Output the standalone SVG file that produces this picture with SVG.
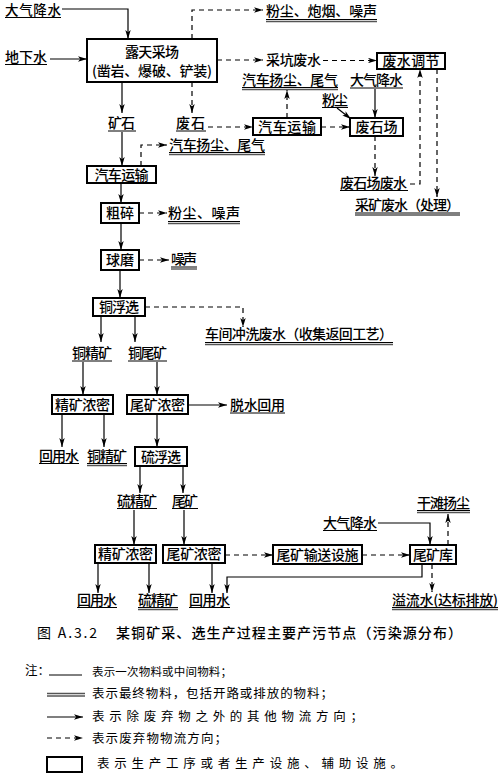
<svg xmlns="http://www.w3.org/2000/svg" width="500" height="776" viewBox="0 0 500 776">
<style>
.bg{fill:#fff}
.box{fill:#fff;stroke:#000;stroke-width:2}
.t{font-family:"Noto Sans CJK SC","Noto Sans CJK JP",sans-serif;font-size:14px;font-weight:500;fill:#000}
.c{text-anchor:middle}
.sm{font-size:12.5px;font-weight:400}
.s{fill:none;stroke:#000;stroke-width:1.2}
.d{fill:none;stroke:#000;stroke-width:1.2;stroke-dasharray:5 4}
.u{stroke:#000;stroke-width:1;fill:none}
.u2{stroke:#555;stroke-width:1.4;fill:none}
</style>
<defs>
<marker id="a" viewBox="0 0 10 6" refX="10" refY="3" markerWidth="9" markerHeight="5.5" orient="auto" markerUnits="userSpaceOnUse">
<path d="M0,0 L10,3 L0,6 L2.5,3 z" fill="#000"/>
</marker>
</defs>
<rect class="bg" x="0" y="0" width="500" height="776"/>

<g id="connectors">
<polyline class="s" points="62,9 128,9 128,39" marker-end="url(#a)"/>
<line class="s" x1="50" y1="59" x2="87" y2="59" marker-end="url(#a)"/>
<polyline class="d" points="192,39 192,10 263,10" marker-end="url(#a)"/>
<line class="d" x1="217" y1="60" x2="263" y2="60" marker-end="url(#a)"/>
<line class="d" x1="323" y1="60.5" x2="377" y2="60.5" marker-end="url(#a)"/>
<line class="s" x1="122" y1="82" x2="122" y2="113" marker-end="url(#a)"/>
<line class="d" x1="192" y1="82" x2="192" y2="113" marker-end="url(#a)"/>
<line class="d" x1="208" y1="127" x2="253" y2="127" marker-end="url(#a)"/>
<line class="d" x1="287" y1="118" x2="287" y2="90" marker-end="url(#a)"/>
<line class="d" x1="321" y1="127" x2="350" y2="127" marker-end="url(#a)"/>
<line class="s" x1="337" y1="108" x2="351" y2="119" marker-end="url(#a)"/>
<line class="s" x1="375" y1="89" x2="375" y2="118" marker-end="url(#a)"/>
<line class="d" x1="375" y1="136" x2="375" y2="176" marker-end="url(#a)"/>
<polyline class="d" points="410,184 420,184 420,69" marker-end="url(#a)"/>
<line class="d" x1="437" y1="69" x2="437" y2="197" marker-end="url(#a)"/>
<line class="s" x1="122" y1="132" x2="122" y2="166" marker-end="url(#a)"/>
<polyline class="d" points="141,166 141,145 167,145" marker-end="url(#a)"/>
<line class="s" x1="121" y1="183" x2="121" y2="203" marker-end="url(#a)"/>
<line class="d" x1="139" y1="213" x2="167" y2="213" marker-end="url(#a)"/>
<line class="s" x1="121" y1="223" x2="121" y2="250" marker-end="url(#a)"/>
<line class="d" x1="139" y1="260" x2="169" y2="260" marker-end="url(#a)"/>
<line class="s" x1="120" y1="270" x2="120" y2="298" marker-end="url(#a)"/>
<polyline class="d" points="145,307 243,307 243,327" marker-end="url(#a)"/>
<line class="s" x1="101" y1="316" x2="101" y2="342" marker-end="url(#a)"/>
<line class="s" x1="135" y1="316" x2="135" y2="342" marker-end="url(#a)"/>
<line class="s" x1="83" y1="362" x2="83" y2="395" marker-end="url(#a)"/>
<line class="s" x1="157" y1="362" x2="157" y2="395" marker-end="url(#a)"/>
<line class="s" x1="188" y1="405" x2="227" y2="405" marker-end="url(#a)"/>
<line class="s" x1="62" y1="414" x2="62" y2="447" marker-end="url(#a)"/>
<line class="s" x1="104" y1="414" x2="104" y2="447" marker-end="url(#a)"/>
<line class="s" x1="157" y1="414" x2="157" y2="447" marker-end="url(#a)"/>
<line class="s" x1="140" y1="466" x2="140" y2="493" marker-end="url(#a)"/>
<line class="s" x1="183" y1="466" x2="183" y2="493" marker-end="url(#a)"/>
<line class="s" x1="134" y1="510" x2="134" y2="545" marker-end="url(#a)"/>
<line class="s" x1="184" y1="510" x2="184" y2="545" marker-end="url(#a)"/>
<line class="d" x1="225" y1="555" x2="273" y2="555" marker-end="url(#a)"/>
<line class="d" x1="362" y1="555" x2="410" y2="555" marker-end="url(#a)"/>
<polyline class="s" points="378,523 430,523 430,545" marker-end="url(#a)"/>
<line class="d" x1="448" y1="545" x2="448" y2="514" marker-end="url(#a)"/>
<line class="d" x1="432" y1="564" x2="432" y2="592" marker-end="url(#a)"/>
<polyline class="s" points="422,564 422,577 227,577 227,593" marker-end="url(#a)"/>
<line class="s" x1="98" y1="563" x2="98" y2="593" marker-end="url(#a)"/>
<line class="s" x1="149" y1="563" x2="149" y2="593" marker-end="url(#a)"/>
<line class="s" x1="212" y1="563" x2="212" y2="593" marker-end="url(#a)"/>
</g>

<g id="n-lutian"><rect class="box" x="87" y="39" width="130" height="43"/><text class="t c" x="152" y="57" textLength="54">露天采场</text><text class="t c" x="152" y="76" textLength="120">(凿岩、爆破、铲装)</text></g>
<g id="n-feishuitiaojie"><rect class="box" x="377" y="53" width="68" height="16"/><text class="t c" x="411" y="66" textLength="57">废水调节</text></g>
<g id="n-qiche2"><rect class="box" x="253" y="118" width="68" height="17"/><text class="t c" x="287" y="131.5" textLength="58">汽车运输</text></g>
<g id="n-feishichang"><rect class="box" x="350" y="118" width="53" height="18"/><text class="t c" x="376.5" y="132" textLength="42">废石场</text></g>
<g id="n-qiche1"><rect class="box" x="87" y="166" width="69" height="17"/><text class="t c" x="121.5" y="179.5" textLength="54">汽车运输</text></g>
<g id="n-cusui"><rect class="box" x="101" y="203" width="38" height="20"/><text class="t c" x="120" y="218" textLength="28">粗碎</text></g>
<g id="n-qiumo"><rect class="box" x="101" y="250" width="38" height="20"/><text class="t c" x="120" y="265" textLength="28">球磨</text></g>
<g id="n-tongfuxuan"><rect class="box" x="93" y="298" width="52" height="18"/><text class="t c" x="119" y="312" textLength="40">铜浮选</text></g>
<g id="n-jingkuang1"><rect class="box" x="52" y="395" width="61" height="19"/><text class="t c" x="82.5" y="409.5" textLength="55">精矿浓密</text></g>
<g id="n-weikuang1"><rect class="box" x="127" y="395" width="61" height="19"/><text class="t c" x="157.5" y="409.5" textLength="55">尾矿浓密</text></g>
<g id="n-liufuxuan"><rect class="box" x="135" y="447" width="52" height="19"/><text class="t c" x="161" y="461.5" textLength="40">硫浮选</text></g>
<g id="n-jingkuang2"><rect class="box" x="95" y="545" width="61" height="18"/><text class="t c" x="125.5" y="559" textLength="55">精矿浓密</text></g>
<g id="n-weikuang2"><rect class="box" x="163" y="545" width="62" height="18"/><text class="t c" x="194" y="559" textLength="55">尾矿浓密</text></g>
<g id="n-shusong"><rect class="box" x="273" y="545" width="89" height="19"/><text class="t c" x="317.5" y="559.5" textLength="82">尾矿输送设施</text></g>
<g id="n-weikuangku"><rect class="box" x="410" y="545" width="46" height="19"/><text class="t c" x="433" y="559.5" textLength="40">尾矿库</text></g>

<g id="l-dqjs1"><text class="t" x="5" y="15" textLength="56" style="font-size:13.5px">大气降水</text><line class="u" x1="5" y1="17.5" x2="61" y2="17.5"/></g>
<g id="l-dxs"><text class="t" x="5" y="62" textLength="42">地下水</text><line class="u" x1="5" y1="64.5" x2="47" y2="64.5"/></g>
<g id="l-ks"><text class="t" x="108" y="128" textLength="27">矿石</text><line class="u" x1="108" y1="131" x2="136" y2="131"/></g>
<g id="l-fs"><text class="t" x="176" y="128" textLength="29">废石</text><line class="u" x1="176" y1="131" x2="206" y2="131"/></g>
<g id="l-fcpy"><text class="t" x="266" y="16" textLength="111">粉尘、炮烟、噪声</text><line class="u" x1="266" y1="19.5" x2="377" y2="19.5"/><line class="u2" x1="266" y1="21.5" x2="377" y2="21.5"/></g>
<g id="l-kkfs"><text class="t" x="266" y="65" textLength="55">采坑废水</text></g>
<g id="l-qcyc1"><text class="t" x="242" y="85" textLength="96">汽车扬尘、尾气</text><line class="u" x1="242" y1="87.5" x2="338" y2="87.5"/><line class="u2" x1="242" y1="89.5" x2="338" y2="89.5"/></g>
<g id="l-dqjs2"><text class="t" x="350" y="85" textLength="53">大气降水</text><line class="u" x1="350" y1="88" x2="403" y2="88"/></g>
<g id="l-fc"><text class="t" x="322" y="105" textLength="26">粉尘</text><line class="u" x1="322" y1="107.5" x2="348" y2="107.5"/></g>
<g id="l-qcyc2"><text class="t" x="169" y="150" textLength="96">汽车扬尘、尾气</text><line class="u" x1="169" y1="152.5" x2="265" y2="152.5"/><line class="u2" x1="169" y1="154.5" x2="265" y2="154.5"/></g>
<g id="l-fczs"><text class="t" x="168" y="218" textLength="72">粉尘、噪声</text><line class="u" x1="168" y1="221.5" x2="240" y2="221.5"/><line class="u2" x1="168" y1="223.5" x2="240" y2="223.5"/></g>
<g id="l-zs"><text class="t" x="171" y="264" textLength="26">噪声</text><line class="u" x1="171" y1="267" x2="197" y2="267"/><line class="u2" x1="171" y1="269" x2="197" y2="269"/></g>
<g id="l-fscfs"><text class="t" x="340" y="188" textLength="67">废石场废水</text><line class="u" x1="340" y1="190.5" x2="408" y2="190.5"/></g>
<g id="l-ckfs"><text class="t" x="355" y="210" textLength="105">采矿废水（处理）</text><line class="u" x1="355" y1="213" x2="460" y2="213"/><line class="u2" x1="355" y1="215" x2="460" y2="215"/></g>
<g id="l-cjcx"><text class="t" x="205" y="339" textLength="188">车间冲洗废水（收集返回工艺）</text><line class="u" x1="205" y1="342.5" x2="393" y2="342.5"/><line class="u2" x1="205" y1="344.5" x2="393" y2="344.5"/></g>
<g id="l-tjk1"><text class="t" x="72" y="358" textLength="40">铜精矿</text><line class="u" x1="72" y1="361" x2="112" y2="361"/></g>
<g id="l-twk"><text class="t" x="128" y="358" textLength="39">铜尾矿</text><line class="u" x1="128" y1="361" x2="167" y2="361"/></g>
<g id="l-tshy"><text class="t" x="230" y="410" textLength="55">脱水回用</text><line class="u" x1="230" y1="413" x2="285" y2="413"/></g>
<g id="l-hys1"><text class="t" x="39" y="461" textLength="40">回用水</text><line class="u" x1="39" y1="463.5" x2="79" y2="463.5"/></g>
<g id="l-tjk2"><text class="t" x="87" y="461" textLength="40">铜精矿</text><line class="u" x1="87" y1="463.5" x2="127" y2="463.5"/><line class="u2" x1="87" y1="465.5" x2="127" y2="465.5"/></g>
<g id="l-ljk1"><text class="t" x="117" y="506" textLength="40">硫精矿</text><line class="u" x1="117" y1="508.5" x2="157" y2="508.5"/></g>
<g id="l-wk"><text class="t" x="172" y="506" textLength="26">尾矿</text><line class="u" x1="172" y1="508.5" x2="198" y2="508.5"/></g>
<g id="l-gtyc"><text class="t" x="417" y="508" textLength="53">干滩扬尘</text><line class="u" x1="417" y1="510.5" x2="470" y2="510.5"/><line class="u2" x1="417" y1="512.5" x2="470" y2="512.5"/></g>
<g id="l-dqjs3"><text class="t" x="323" y="528" textLength="54">大气降水</text><line class="u" x1="323" y1="530.5" x2="377" y2="530.5"/></g>
<g id="l-hys2"><text class="t" x="77" y="605" textLength="40">回用水</text><line class="u" x1="77" y1="607.5" x2="117" y2="607.5"/></g>
<g id="l-ljk2"><text class="t" x="138" y="605" textLength="40">硫精矿</text><line class="u" x1="138" y1="607.5" x2="178" y2="607.5"/><line class="u2" x1="138" y1="609.5" x2="178" y2="609.5"/></g>
<g id="l-hys3"><text class="t" x="189" y="605" textLength="41">回用水</text><line class="u" x1="189" y1="607.5" x2="230" y2="607.5"/></g>
<g id="l-ylsh"><text class="t" x="392" y="605" textLength="106">溢流水(达标排放)</text><line class="u" x1="392" y1="607.5" x2="498" y2="607.5"/><line class="u2" x1="392" y1="609.5" x2="498" y2="609.5"/></g>

<g id="caption">
<text class="t" x="37" y="638" textLength="60" style="font-weight:400">图 A.3.2</text>
<text class="t" x="116" y="638" textLength="346">某铜矿采、选生产过程主要产污节点（污染源分布）</text>
</g>

<g id="legend">
<text class="t sm" x="25" y="675">注：</text>
<line class="u" x1="49" y1="675" x2="82" y2="675"/>
<text class="t sm" x="92" y="676" textLength="140" style="font-size:11.5px">表示一次物料或中间物料；</text>
<line class="u2" x1="47" y1="693.5" x2="85" y2="693.5"/><line class="u" x1="47" y1="696" x2="85" y2="696"/>
<text class="t sm" x="92" y="698" textLength="241">表示最终物料，包括开路或排放的物料；</text>
<line class="s" x1="47" y1="717" x2="83" y2="717" marker-end="url(#a)"/>
<text class="t sm" x="92" y="721" textLength="271">表示除废弃物之外的其他物流方向；</text>
<line class="d" x1="47" y1="738" x2="83" y2="738" marker-end="url(#a)"/>
<text class="t sm" x="92" y="743" textLength="135">表示废弃物物流方向；</text>
<rect class="box" x="47" y="757" width="35" height="15"/>
<text class="t sm" x="97" y="768" textLength="306">表示生产工序或者生产设施、辅助设施。</text>
</g>
</svg>
